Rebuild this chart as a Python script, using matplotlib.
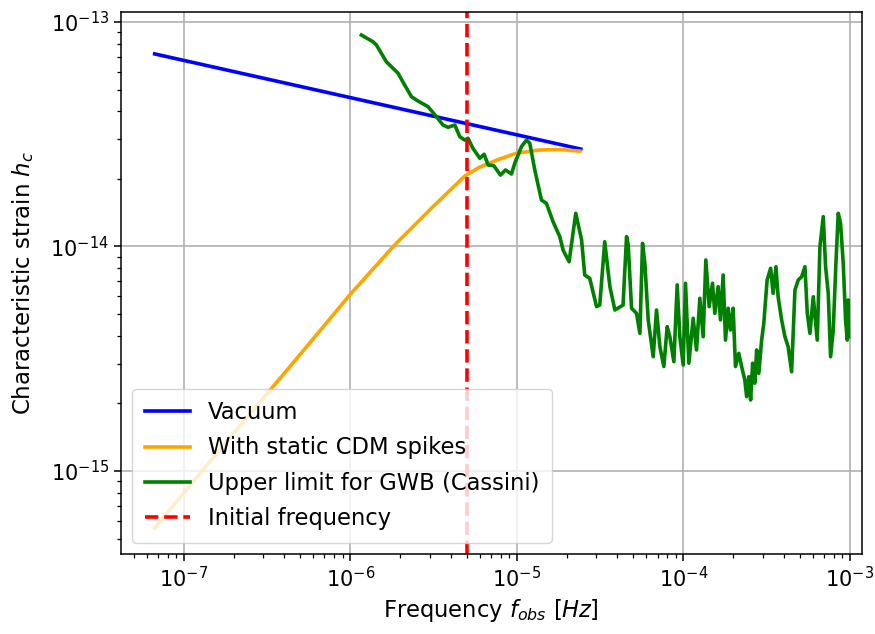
import numpy as np
import matplotlib
matplotlib.use('Agg')
import matplotlib.pyplot as plt

# data, stored as log10 values
vac_logf = [-7.174, -4.616]
vac_logh = [-13.142, -13.566]

cdm_logf = [-7.174, -6.904, -6.604, -6.303, -6.003, -5.733, -5.505, -5.312,
            -5.222, -5.102, -5.000, -4.862, -4.742, -4.622]
cdm_logh = [-15.254, -15.013, -14.748, -14.483, -14.216, -13.993, -13.824, -13.686,
            -13.646, -13.610, -13.584, -13.570, -13.568, -13.575]

gwb_logf = [-5.933, -5.863, -5.843, -5.783, -5.713, -5.673, -5.632, -5.593, -5.533, -5.482,
            -5.443, -5.413, -5.372, -5.342, -5.312, -5.293, -5.263, -5.222, -5.196, -5.172,
            -5.138, -5.098, -5.068, -5.032, -5.012, -4.972, -4.942, -4.922, -4.892, -4.852,
            -4.822, -4.782, -4.742, -4.722, -4.686, -4.646, -4.611, -4.592, -4.562, -4.521,
            -4.502, -4.472, -4.441, -4.411, -4.362, -4.341, -4.331, -4.311, -4.281, -4.261,
            -4.245, -4.231, -4.211, -4.181, -4.161, -4.141, -4.117, -4.097, -4.081, -4.057,
            -4.037, -4.021, -4.001, -3.987, -3.967, -3.941, -3.921, -3.901, -3.881, -3.865,
            -3.845, -3.825, -3.811, -3.791, -3.777, -3.761, -3.747, -3.731, -3.717, -3.701,
            -3.687, -3.667, -3.650, -3.631, -3.620, -3.607, -3.596, -3.584, -3.571, -3.560,
            -3.547, -3.530, -3.517, -3.497, -3.476, -3.461, -3.444, -3.431, -3.410, -3.390,
            -3.371, -3.350, -3.330, -3.310, -3.290, -3.270, -3.256, -3.240, -3.220, -3.196,
            -3.180, -3.160, -3.146, -3.130, -3.116, -3.100, -3.084, -3.070, -3.056, -3.040,
            -3.026, -3.016, -3.010, -3.008]
gwb_logh = [-13.058, -13.088, -13.102, -13.177, -13.228, -13.281, -13.333, -13.352, -13.377, -13.422,
            -13.459, -13.469, -13.459, -13.511, -13.526, -13.518, -13.563, -13.607, -13.589, -13.637,
            -13.640, -13.682, -13.659, -13.677, -13.629, -13.555, -13.526, -13.540, -13.659, -13.793,
            -13.808, -13.890, -13.956, -14.016, -14.068, -13.852, -13.971, -14.127, -14.142, -14.268,
            -14.261, -13.979, -14.179, -14.283, -14.261, -13.956, -13.993, -14.275, -14.298, -14.387,
            -13.986, -14.075, -14.327, -14.491, -14.283, -14.446, -14.535, -14.357, -14.402, -14.513,
            -14.171, -14.402, -14.528, -14.164, -14.520, -14.320, -14.461, -14.231, -14.402, -14.060,
            -14.268, -14.164, -14.298, -14.179, -14.327, -14.127, -14.417, -14.275, -14.372, -14.275,
            -14.535, -14.476, -14.535, -14.595, -14.669, -14.580, -14.684, -14.520, -14.609, -14.461,
            -14.565, -14.417, -14.342, -14.149, -14.097, -14.209, -14.090, -14.224, -14.327, -14.402,
            -14.446, -14.558, -14.194, -14.149, -14.135, -14.090, -14.298, -14.387, -14.224, -14.417,
            -14.001, -13.867, -14.090, -14.209, -14.491, -14.372, -14.075, -13.852, -13.897, -14.075,
            -14.327, -14.417, -14.238, -14.402]

f_init = 5e-6

fig, ax = plt.subplots(figsize=(8.75, 6.34), dpi=100)
fig.subplots_adjust(left=0.138, right=0.985, top=0.981, bottom=0.126)

lw = 2.6
ax.plot(10 ** np.array(vac_logf), 10 ** np.array(vac_logh), color='blue', lw=lw, label='Vacuum')
ax.plot(10 ** np.array(cdm_logf), 10 ** np.array(cdm_logh), color='orange', lw=lw,
        label='With static CDM spikes')
ax.plot(10 ** np.array(gwb_logf), 10 ** np.array(gwb_logh), color='green', lw=lw,
        label='Upper limit for GWB (Cassini)')
ax.axvline(f_init, color='red', ls='--', lw=lw, label='Initial frequency')

ax.set_xscale('log')
ax.set_yscale('log')
ax.set_xlim(4.19e-8, 1.18e-3)
ax.set_ylim(4.26e-16, 1.108e-13)

ax.grid(True, which='major', color='#b0b0b0', lw=1.2)
ax.tick_params(which='major', labelsize=15, length=5, width=1.1)
ax.tick_params(which='minor', length=3, width=0.9)
for s in ax.spines.values():
    s.set_linewidth(1.1)

ax.set_xlabel('Frequency $f_{obs}$ $[Hz]$', fontsize=16.3)
ax.set_ylabel('Characteristic strain $h_c$', fontsize=16.5, labelpad=10)
ax.legend(loc='lower left', fontsize=16.3, labelspacing=0.55, borderpad=0.55,
          handletextpad=0.8)

plt.savefig('out.png', dpi=100)
